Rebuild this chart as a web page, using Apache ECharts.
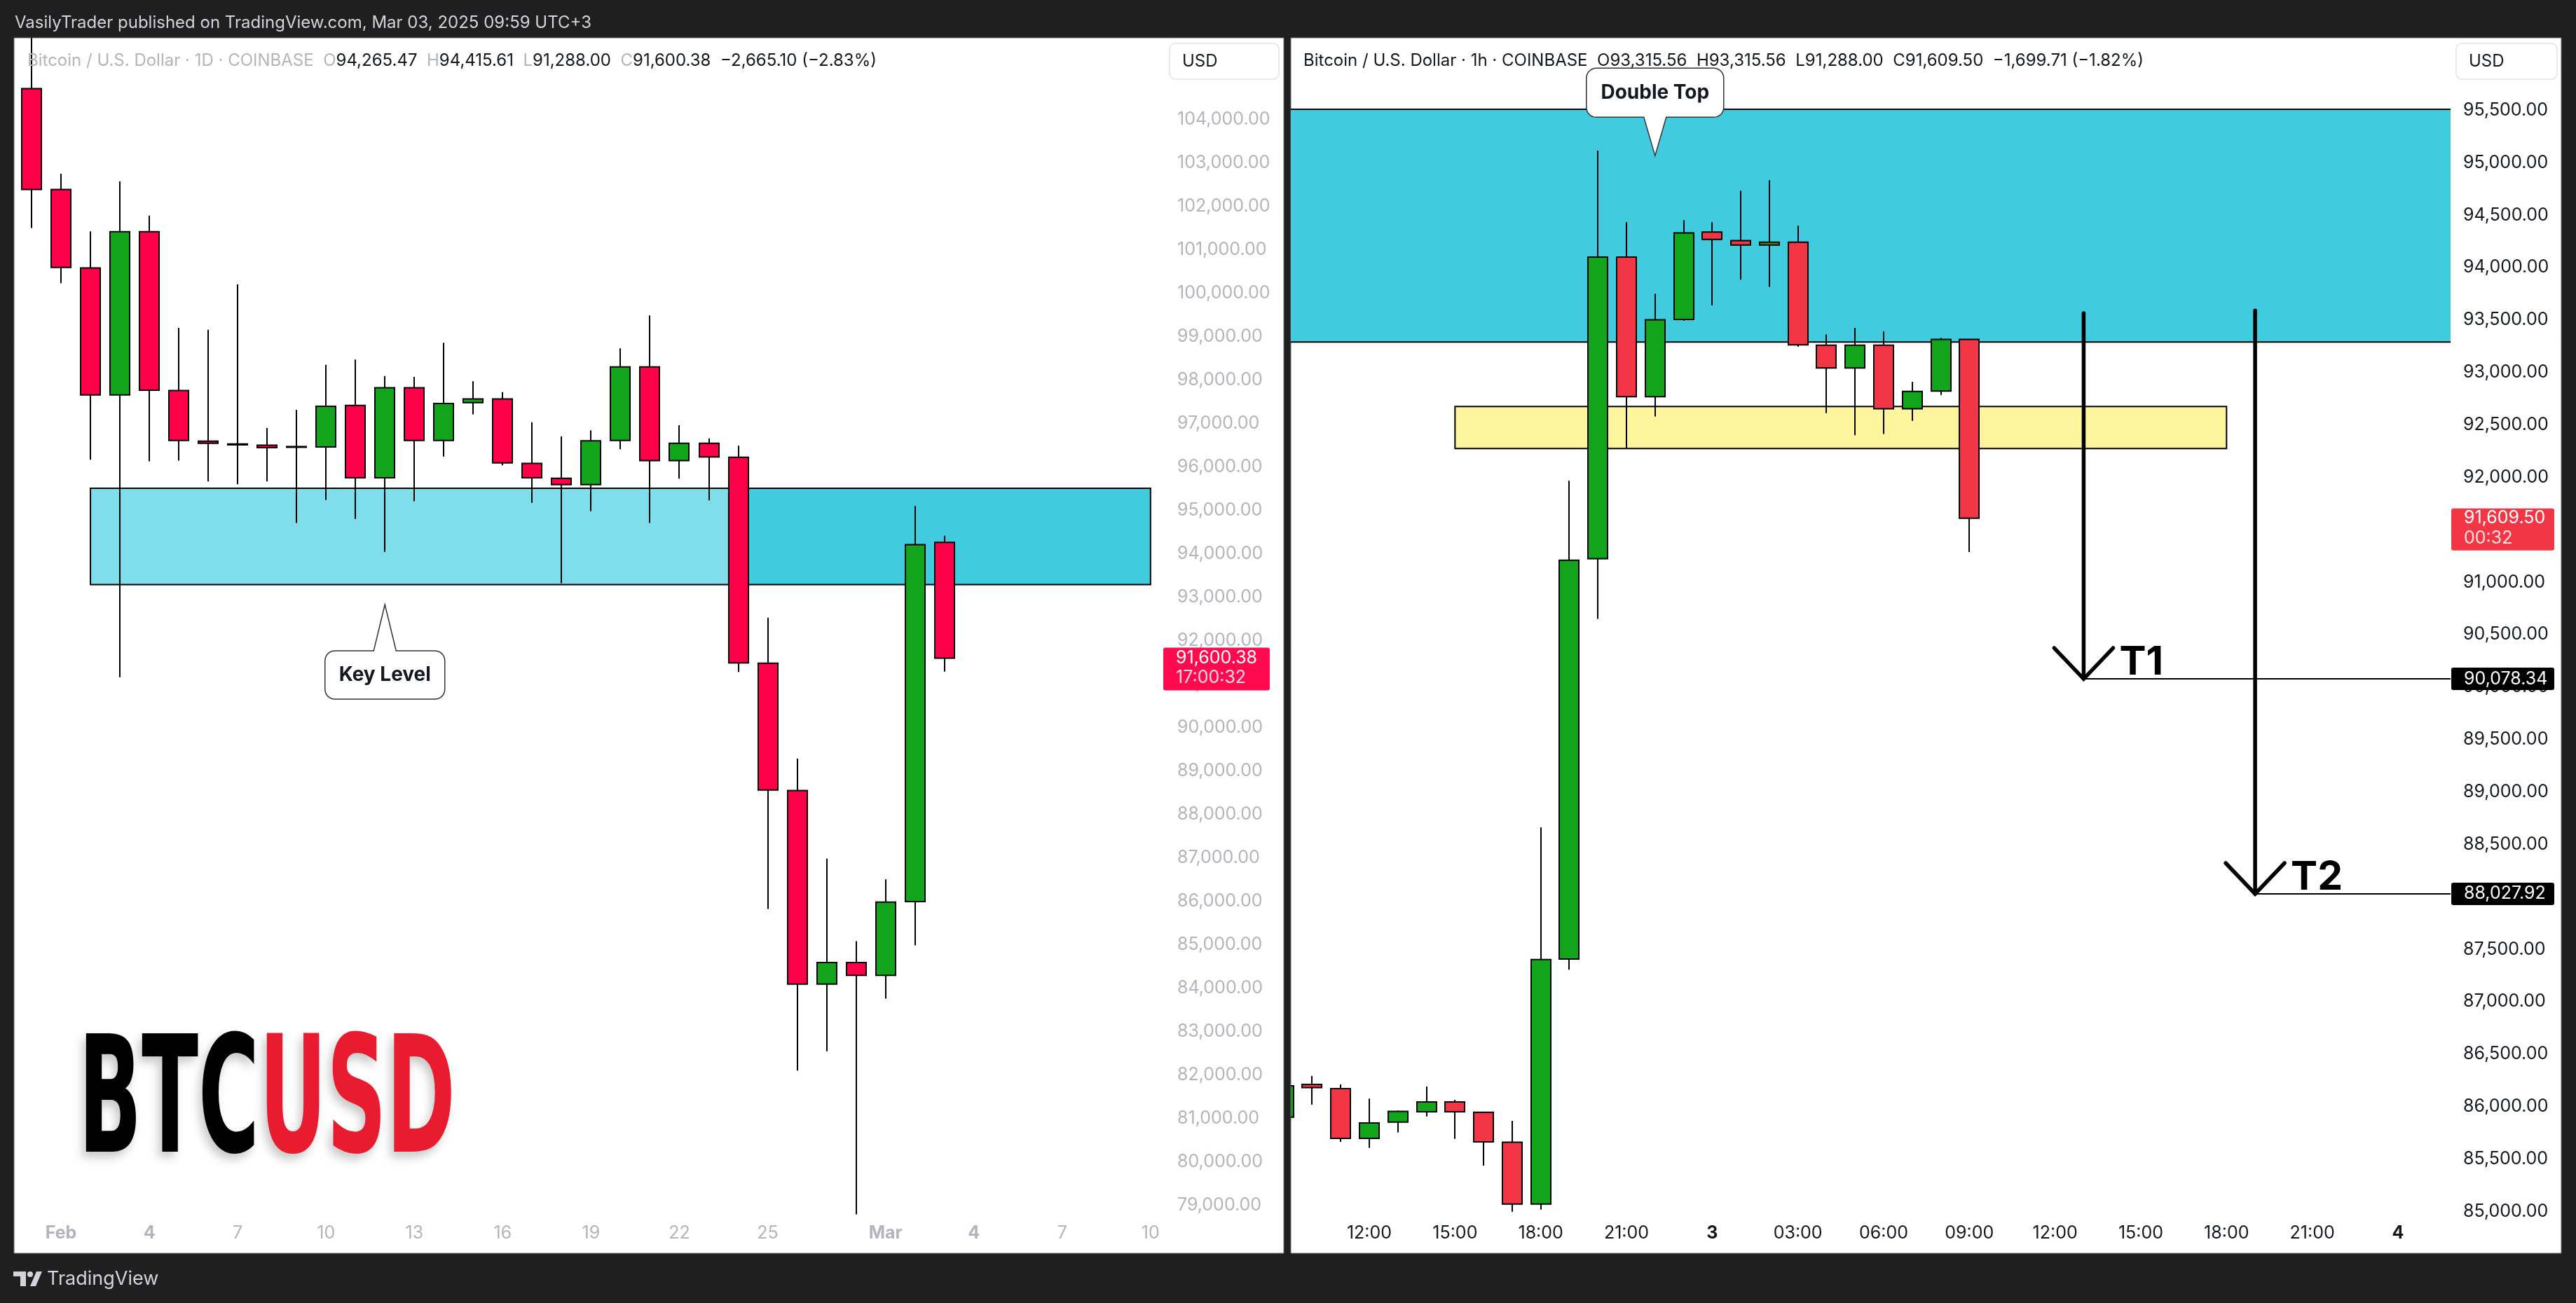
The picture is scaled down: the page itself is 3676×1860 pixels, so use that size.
<!DOCTYPE html>
<html><head><meta charset="utf-8">
<script src="https://cdn.jsdelivr.net/npm/echarts@6/dist/echarts.min.js"></script>
<style>html,body{margin:0;padding:0;background:#1f1f1f;}#c{width:3676px;height:1860px;}</style>
</head><body><div id="c"></div>
<script>
// ---------------- DATA ----------------
const dailyDates = ['2025-01-31','2025-02-01','2025-02-02','2025-02-03','2025-02-04','2025-02-05','2025-02-06','2025-02-07','2025-02-08','2025-02-09','2025-02-10','2025-02-11','2025-02-12','2025-02-13','2025-02-14','2025-02-15','2025-02-16','2025-02-17','2025-02-18','2025-02-19','2025-02-20','2025-02-21','2025-02-22','2025-02-23','2025-02-24','2025-02-25','2025-02-26','2025-02-27','2025-02-28','2025-03-01','2025-03-02','2025-03-03'];
const dailyOpen  = [104713,102389,100583,97657,101417,97759,96593,96530,96500,96470,96463,97416,95750,97824,96611,97481,97565,96083,95741,95593,96611,98305,96148,96546,96222,91482,88551,84096,84590,84294,85993,94265.47];
const dailyClose = [102389,100593,97657,101417,97768,96611,96546,96510,96445,96454,97398,95750,97824,96611,97463,97565,96093,95750,95593,96602,98305,96148,96546,96232,91491,88561,84096,84590,84294,85983,94213,91600.38];
const dailyLow   = [101500,100232,96167,91157,96130,96148,95667,95602,95667,94713,95241,94806,94046,95213,96241,97213,96037,95176,93324,94982,96407,94713,95731,95231,91278,85825,82101,82546,78793,83761,84985,91288];
const dailyHigh  = [106000,102750,101426,102574,101787,99204,99157,100204,96898,97315,98352,98472,98093,98074,98861,97972,97722,97028,96704,96843,98731,99491,96963,96657,96491,92528,89282,86980,85084,86506,95102,94415.61];

const hourlyTimes = ['03-02 09:00','03-02 10:00','03-02 11:00','03-02 12:00','03-02 13:00','03-02 14:00','03-02 15:00','03-02 16:00','03-02 17:00','03-02 18:00','03-02 19:00','03-02 20:00','03-02 21:00','03-02 22:00','03-02 23:00','03-03 00:00','03-03 01:00','03-03 02:00','03-03 03:00','03-03 04:00','03-03 05:00','03-03 06:00','03-03 07:00','03-03 08:00','03-03 09:00'];
const hourlyOpen  = [85899,86211,86170,85696,85851,85950,86044,85946,85659,85070,87406,91224,94100,92769,93506,94338,94257,94215,94242,93260,93042,93260,92654,92823,93315.56];
const hourlyClose = [86198,86180,85696,85843,85954,86044,85950,85663,85070,87402,91209,94100,92769,93502,94330,94269,94215,94242,93264,93042,93260,92654,92819,93315,91609.50];
const hourlyLow   = [85850,86019,85663,85606,85753,85905,85692,85438,84996,85017,87304,90649,92278,92581,93494,93640,93885,93816,93245,92612,92401,92413,92539,92785,91288];
const hourlyHigh  = [86260,86293,86211,86076,85962,86191,86064,85950,85864,88662,91968,95116,94434,93751,94453,94434,94733,94833,94399,93364,93425,93391,92911,93330,93315.56];

const leftTickPos  = [1,4,7,10,13,16,19,22,25,29,32,35,38];
const leftTickText = ['Feb','4','7','10','13','16','19','22','25','Mar','4','7','10'];
const rightTickPos  = [3,6,9,12,15,18,21,24,27,30,33,36,39];
const rightTickText = ['12:00','15:00','18:00','21:00','3','03:00','06:00','09:00','12:00','15:00','18:00','21:00','4'];
const boldTicks = ['Feb','Mar','3','4'];
const leftPriceTicks  = [79000,80000,81000,82000,83000,84000,85000,86000,87000,88000,89000,90000,91000,92000,93000,94000,95000,96000,97000,98000,99000,100000,101000,102000,103000,104000];
const rightPriceTicks = [85000,85500,86000,86500,87000,87500,88000,88500,89000,89500,90000,90500,91000,91500,92000,92500,93000,93500,94000,94500,95000,95500];

const keyZone = [93290, 95510];
const supportZone = [92275, 92675];
const targetLevels = [90078.34, 88027.92];
const targetNames = ['T1','T2'];
const lastDaily = {price: 91600.38, timer: '17:00:32'};
const lastHourly = {price: 91609.50, timer: '00:32'};

// ---------------- STYLE ----------------
const GREEN = '#12a41a', RED_L = '#ff0048', RED_R = '#f23645';
const FONT = 'Inter, "Noto Sans", sans-serif';
const fmt2 = v => v.toLocaleString('en-US',{minimumFractionDigits:2, maximumFractionDigits:2});

const leftCandles = dailyDates.map((d,i)=>[i, dailyOpen[i], dailyClose[i], dailyLow[i], dailyHigh[i]]);
const rightCandles = hourlyTimes.map((d,i)=>[i, hourlyOpen[i], hourlyClose[i], hourlyLow[i], hourlyHigh[i]]);

const leftZones = [
  {x:[2,38], y:keyZone, fill:'#80deea', stroke:null},
  {x:[23.64,38], y:keyZone, fill:'#41cbde', stroke:null},
  {x:[2,38], y:keyZone, fill:'none', stroke:'#000'}
];
const rightZones = [
  {x:[-5,50], y:keyZone, fill:'#41cbde', stroke:'#000'},
  {x:[6,33], y:supportZone, fill:'#fff59d', stroke:'#000'}
];

function candleRenderer(up, down, bw){
  return function(params, api){
    const x=api.value(0), o=api.value(1), c=api.value(2), l=api.value(3), h=api.value(4);
    const pO=api.coord([x,o]), pC=api.coord([x,c]), pL=api.coord([x,l]), pH=api.coord([x,h]);
    const cx=Math.round(pO[0]);
    const top=Math.min(pO[1],pC[1]), bot=Math.max(pO[1],pC[1]);
    return {type:'group', children:[
      {type:'line', shape:{x1:cx,y1:pH[1],x2:cx,y2:pL[1]}, style:{stroke:'#000',lineWidth:2}},
      {type:'rect', shape:{x:cx-bw/2,y:top,width:bw,height:Math.max(bot-top,1)}, style:{fill:c>=o?up:down, stroke:'#000', lineWidth:2}}
    ]};
  };
}
function zoneRenderer(zones){
  return function(params, api){
    const z=zones[params.dataIndex];
    const p1=api.coord([z.x[0],z.y[1]]), p2=api.coord([z.x[1],z.y[0]]);
    return {type:'rect', shape:{x:p1[0],y:p1[1],width:p2[0]-p1[0],height:p2[1]-p1[1]},
      style:{fill:z.fill, stroke:z.stroke, lineWidth:2}};
  };
}
function tickFmt(pos, txt){
  return function(v){
    const i = pos.indexOf(Math.round(v));
    if(i<0 || Math.abs(v-pos[i])>1e-6) return '';
    const t = txt[i];
    return boldTicks.includes(t) ? '{b|'+t+'}' : t;
  };
}
function xAxisCfg(grid, min, max, pos, txt, color){
  return {gridIndex:grid, type:'value', min:min, max:max,
    axisLine:{show:false}, axisTick:{show:false}, splitLine:{show:false},
    axisLabel:{customValues:pos, formatter:tickFmt(pos,txt), color:color, fontSize:25, fontFamily:FONT, margin:11,
      rich:{b:{fontWeight:'bold', color:color, fontSize:25, fontFamily:FONT}}}};
}
function yAxisCfg(grid, min, max, ticks, color){
  return {gridIndex:grid, type:'value', position:'right', min:min, max:max, scale:true,
    axisLine:{show:false}, axisTick:{show:false}, splitLine:{show:false},
    axisLabel:{customValues:ticks, formatter:v=>fmt2(v), color:color, fontSize:25, fontFamily:FONT, align:'left', margin:18}};
}

const chart = echarts.init(document.getElementById('c'), null, {renderer:'canvas', width:3676, height:1860});
const option = {
  backgroundColor:'#1f1f1f',
  animation:false,
  grid:[
    {left:20, top:54, width:1642, height:1683},
    {left:1842, top:54, width:1655, height:1683}
  ],
  xAxis:[
    xAxisCfg(0, -0.595, 38.48, leftTickPos, leftTickText, '#b2b5be'),
    xAxisCfg(1, 0.253, 40.84, rightTickPos, rightTickText, '#131722')
  ],
  yAxis:[
    yAxisCfg(0, 78735.5, 105880.6, leftPriceTicks, '#b2b5be'),
    yAxisCfg(1, 84948.3, 96190.7, rightPriceTicks, '#131722')
  ],
  series:[
    {type:'custom', name:'zonesL', xAxisIndex:0, yAxisIndex:0, z:1, clip:true,
      data:leftZones.map(z=>[z.x[0],z.y[0],z.x[1],z.y[1]]), encode:{x:[0,2],y:[1,3]}, renderItem:zoneRenderer(leftZones)},
    {type:'custom', name:'zonesR', xAxisIndex:1, yAxisIndex:1, z:1, clip:true,
      data:rightZones.map(z=>[z.x[0],z.y[0],z.x[1],z.y[1]]), encode:{x:[0,2],y:[1,3]}, renderItem:zoneRenderer(rightZones)},
    {type:'custom', name:'BTCUSD 1D', xAxisIndex:0, yAxisIndex:0, z:3, clip:true,
      data:leftCandles, encode:{x:0,y:[1,2,3,4]}, renderItem:candleRenderer(GREEN, RED_L, 28)},
    {type:'custom', name:'BTCUSD 1h', xAxisIndex:1, yAxisIndex:1, z:3, clip:true,
      data:rightCandles, encode:{x:0,y:[1,2,3,4]}, renderItem:candleRenderer(GREEN, RED_R, 28)}
  ]
};
chart.setOption(option);

const P = (g,x,y)=>chart.convertToPixel({gridIndex:g},[x,y]);
const G = [];
// panels
G.push({type:'rect', shape:{x:20,y:54,width:1812,height:1735}, style:{fill:'#fff', stroke:'#6a6a6a', lineWidth:1}, z:-10});
G.push({type:'rect', shape:{x:1842,y:54,width:1813,height:1735}, style:{fill:'#fff', stroke:'#6a6a6a', lineWidth:1}, z:-10});
// top header
G.push({type:'text', x:21, y:33, style:{text:'VasilyTrader published on TradingView.com, Mar 03, 2025 09:59 UTC+3', fill:'#d1d4dc', fontSize:24, fontFamily:FONT, verticalAlign:'middle'}, z:60});
// pane headers
function hdr(x, title, o,h,l,c,chg, tcol, kcol){
  const rich = {
    t:{fill:tcol, color:tcol, fontSize:24, fontFamily:FONT},
    k:{fill:kcol, color:kcol, fontSize:24, fontFamily:FONT},
    v:{fill:'#131722', color:'#131722', fontSize:24, fontFamily:FONT}
  };
  return {type:'text', x:x, y:87, z:60, style:{text:'{t|'+title+'}  {k|O}{v|'+o+'}  {k|H}{v|'+h+'}  {k|L}{v|'+l+'}  {k|C}{v|'+c+'}  {v|'+chg+'}',
    rich:rich, fontSize:24, fontFamily:FONT, verticalAlign:'middle'}};
}
G.push(hdr(39,'Bitcoin / U.S. Dollar · 1D · COINBASE', fmt2(dailyOpen[31]), fmt2(dailyHigh[31]), fmt2(dailyLow[31]), fmt2(dailyClose[31]), '−2,665.10 (−2.83%)', '#b2b5be', '#b2b5be'));
G.push(hdr(1860,'Bitcoin / U.S. Dollar · 1h · COINBASE', fmt2(hourlyOpen[24]), fmt2(hourlyHigh[24]), fmt2(hourlyLow[24]), fmt2(hourlyClose[24]), '−1,699.71 (−1.82%)', '#131722', '#131722'));
// USD buttons
[[1669,156],[3505,144]].forEach(([x,w])=>{
  G.push({type:'rect', shape:{x:x,y:62,width:w,height:51,r:8}, style:{fill:'#fff', stroke:'#e0e3eb', lineWidth:1.5}, z:60});
  G.push({type:'text', x:x+18, y:88, style:{text:'USD', fill:'#131722', fontSize:24, fontFamily:FONT, verticalAlign:'middle'}, z:61});
});
// price tags
function tag(g, price, timer, color, x, w, top, h, l2){
  const p = P(g, 0, price);
  G.push({type:'rect', shape:{x:x, y:p[1]+top, width:w, height:h, r:3}, style:{fill:color}, z:80});
  G.push({type:'text', x:x+18, y:p[1], style:{text:fmt2(price), fill:'#fff', fontSize:25, fontFamily:FONT, verticalAlign:'middle'}, z:81});
  if(timer) G.push({type:'text', x:x+18, y:p[1]+l2, style:{text:timer, fill:'rgba(255,255,255,0.85)', fontSize:25, fontFamily:FONT, verticalAlign:'middle'}, z:81});
}
tag(0, lastDaily.price, lastDaily.timer, '#ff0a4e', 1660, 152, -15, 61, 28);
tag(1, lastHourly.price, lastHourly.timer, RED_R, 3498, 147, -14, 60, 29);
targetLevels.forEach(v=>tag(1, v, null, '#000', 3498, 147, -16, 32, 0));

// rounded corner helper -> polygon points
function arcPts(cx, cy, r, a0, a1){
  const pts=[]; const n=6;
  for(let k=0;k<=n;k++){ const a=a0+(a1-a0)*k/n; pts.push([cx+r*Math.cos(a), cy+r*Math.sin(a)]); }
  return pts;
}
function roundBox(x0,y0,x1,y1,r,ptr){
  const PI=Math.PI; let pts=[];
  pts = pts.concat(arcPts(x0+r,y0+r,r,PI,1.5*PI));
  if(ptr && ptr.edge==='top'){ pts.push([ptr.cx-ptr.b,y0],[ptr.cx,ptr.tipY],[ptr.cx+ptr.b,y0]); }
  pts = pts.concat(arcPts(x1-r,y0+r,r,1.5*PI,2*PI));
  pts = pts.concat(arcPts(x1-r,y1-r,r,0,0.5*PI));
  if(ptr && ptr.edge==='bottom'){ pts.push([ptr.cx+ptr.b,y1],[ptr.cx,ptr.tipY],[ptr.cx-ptr.b,y1]); }
  pts = pts.concat(arcPts(x0+r,y1-r,r,0.5*PI,PI));
  return pts;
}
function callout(g, tx, ty, text, dir, w, h, gap){
  const t = P(g, tx, ty);
  const cx = t[0];
  const x0 = cx - w/2, x1 = cx + w/2;
  let y0, y1;
  if(dir==='up'){ y0 = t[1] + gap; y1 = y0 + h; }
  else { y1 = t[1] - gap; y0 = y1 - h; }
  const pts = roundBox(x0,y0,x1,y1,14,{edge: dir==='up'?'top':'bottom', cx:cx, tipY:t[1], b:16});
  G.push({type:'polygon', shape:{points:pts}, style:{fill:'#fff', stroke:'#333', lineWidth:1.5}, z:70});
  G.push({type:'text', x:cx, y:(y0+y1)/2, style:{text:text, fill:'#131722', fontSize:28, fontWeight:'bold', fontFamily:FONT, align:'center', verticalAlign:'middle'}, z:71});
}
callout(0, 12, 92832, 'Key Level', 'up', 171, 69, 66);
callout(1, 13, 95066, 'Double Top', 'down', 196, 70, 55);

// target arrows
const arrowX = [28, 34], arrowTop = [93565, 93590];
targetLevels.forEach((lvl,i)=>{
  const a = P(1, arrowX[i], arrowTop[i]);
  const t = P(1, arrowX[i], lvl);
  const e = P(1, 40.84, lvl);
  G.push({type:'line', shape:{x1:t[0],y1:t[1],x2:e[0],y2:e[1]}, style:{stroke:'#000', lineWidth:2}, z:40});
  G.push({type:'line', shape:{x1:a[0],y1:a[1],x2:t[0],y2:t[1]}, style:{stroke:'#000', lineWidth:5.5, lineCap:'round'}, z:41});
  G.push({type:'polyline', shape:{points:[[t[0]-42,t[1]-44],[t[0],t[1]],[t[0]+42,t[1]-44]]}, style:{stroke:'#000', fill:null, lineWidth:5.5, lineCap:'round', lineJoin:'miter'}, z:41});
  G.push({type:'text', x:t[0]+51, y:t[1]-23, style:{text:targetNames[i], fill:'#000', fontSize:57, fontWeight:'bold', fontFamily:FONT, verticalAlign:'middle'}, z:41});
});

// BTCUSD logo text
const bigFont = '"Liberation Sans Narrow", "DejaVu Sans Condensed", sans-serif';
const mctx = document.createElement('canvas').getContext('2d');
mctx.font = 'bold 232px ' + bigFont;
const bw = mctx.measureText('BTCUSD').width;
const sx = 538 / bw;
const shadow = {textShadowColor:'rgba(0,0,0,0.22)', textShadowBlur:14, textShadowOffsetX:-5, textShadowOffsetY:8};
G.push({type:'text', x:112, y:1584, scaleX:sx, z:20, style:{
  text:'{k|BTC}{r|USD}', fontSize:232, fontWeight:'bold', fontFamily:bigFont, verticalAlign:'middle',
  rich:{
    k:Object.assign({fill:'#000', color:'#000', fontSize:232, fontWeight:'bold', fontFamily:bigFont}, shadow),
    r:Object.assign({fill:'#e81c2e', color:'#e81c2e', fontSize:232, fontWeight:'bold', fontFamily:bigFont}, shadow)
  }}});

// TradingView footer
G.push({type:'polygon', z:60, shape:{points:[[19,1815],[37,1815],[37,1836],[29,1836],[29,1822],[19,1822]]}, style:{fill:'#d1d4dc'}});
G.push({type:'polygon', z:60, shape:{points:[[52,1815],[60,1815],[51,1836],[43,1836]]}, style:{fill:'#d1d4dc'}});
G.push({type:'circle', z:60, shape:{cx:43, cy:1819, r:4}, style:{fill:'#d1d4dc'}});
G.push({type:'text', x:67, y:1826, z:60, style:{text:'TradingView', fill:'#d1d4dc', fontSize:27, fontFamily:FONT, verticalAlign:'middle'}});

chart.setOption({graphic:G});
</script></body></html>
